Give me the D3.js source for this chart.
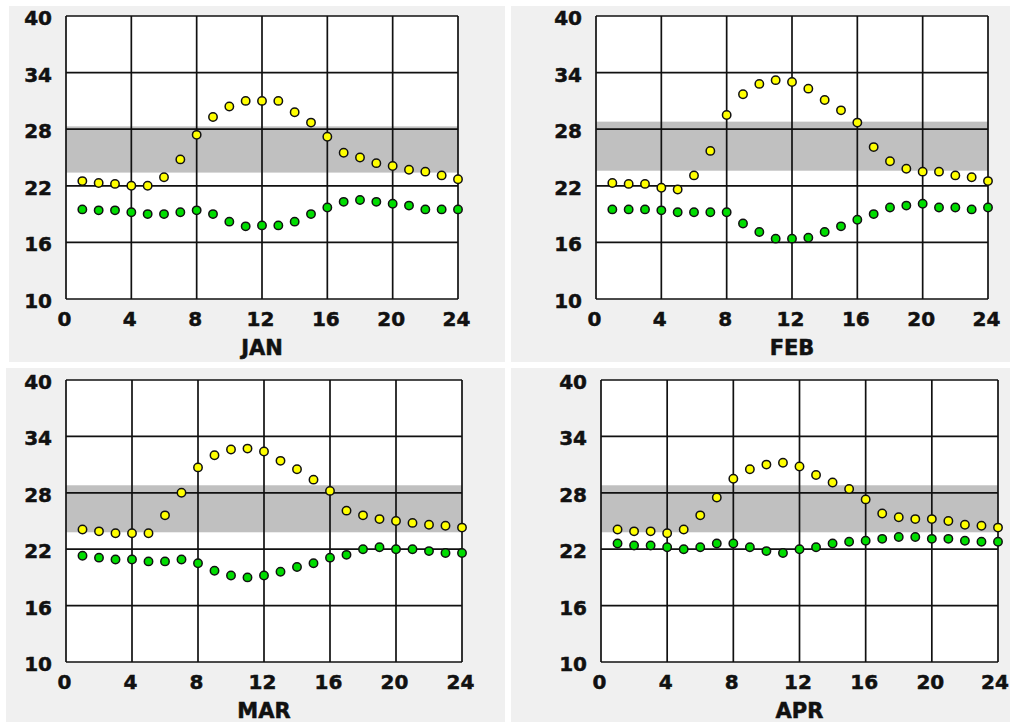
<html><head>
  <script src="https://d3js.org/d3.v7.min.js"></script>
  <style>
    body { margin: 0; background: #ffffff; }
    text { font-family: 'DejaVu Sans', Verdana, sans-serif; font-weight: bold; fill: #111;
           stroke: #111; stroke-width: 0.5px; }
  </style>
</head>
<body>
  <script>
    // Data
    const months = ["JAN", "FEB", "MAR", "APR"]
    const hours = d3.range(1, 25)
    const xTicks = [0, 4, 8, 12, 16, 20, 24]
    const yTicks = [10, 16, 22, 28, 34, 40]

    const janYellow = [22.5, 22.3, 22.2, 22.0, 22.0, 22.9, 24.8, 27.4, 29.3, 30.4, 31.0, 31.0,
                       31.0, 29.8, 28.7, 27.2, 25.5, 25.0, 24.4, 24.1, 23.7, 23.5, 23.1, 22.7]
    const janGreen  = [19.5, 19.4, 19.4, 19.2, 19.0, 19.0, 19.2, 19.4, 19.0, 18.2, 17.7, 17.8,
                       17.8, 18.2, 19.0, 19.7, 20.3, 20.5, 20.3, 20.1, 19.9, 19.5, 19.5, 19.5]
    const febYellow = [22.3, 22.2, 22.2, 21.8, 21.6, 23.1, 25.7, 29.5, 31.7, 32.8, 33.2, 33.0,
                       32.3, 31.1, 30.0, 28.7, 26.1, 24.6, 23.8, 23.5, 23.5, 23.1, 22.9, 22.5]
    const febGreen  = [19.5, 19.5, 19.5, 19.4, 19.2, 19.2, 19.2, 19.2, 18.0, 17.1, 16.4, 16.4,
                       16.5, 17.1, 17.7, 18.4, 19.0, 19.7, 19.9, 20.1, 19.7, 19.7, 19.5, 19.7]
    const marYellow = [24.1, 23.9, 23.7, 23.7, 23.7, 25.6, 28.0, 30.7, 32.0, 32.6, 32.7, 32.4,
                       31.4, 30.5, 29.4, 28.2, 26.1, 25.6, 25.2, 25.0, 24.8, 24.6, 24.5, 24.3]
    const marGreen  = [21.3, 21.1, 20.9, 20.9, 20.7, 20.7, 20.9, 20.5, 19.7, 19.2, 19.0, 19.2,
                       19.6, 20.1, 20.5, 21.1, 21.4, 22.0, 22.2, 22.0, 22.0, 21.8, 21.6, 21.6]
    const aprYellow = [24.1, 23.9, 23.9, 23.7, 24.1, 25.6, 27.5, 29.5, 30.5, 31.0, 31.2, 30.8,
                       29.9, 29.1, 28.4, 27.3, 25.8, 25.4, 25.2, 25.2, 25.0, 24.6, 24.5, 24.3]
    const aprGreen  = [22.6, 22.4, 22.4, 22.2, 22.0, 22.2, 22.6, 22.6, 22.2, 21.8, 21.6, 22.0,
                       22.2, 22.6, 22.8, 22.9, 23.1, 23.3, 23.3, 23.1, 23.1, 22.9, 22.8, 22.8]
    const yellowSeries = [janYellow, febYellow, marYellow, aprYellow]
    const greenSeries  = [janGreen, febGreen, marGreen, aprGreen]
    const bandLow  = [23.4, 23.6, 23.8, 23.8]
    const bandHigh = [28.3, 28.8, 28.8, 28.8]

    // Layout of the four panels (background box + plot area)
    const panels = [
      {bg: [9, 6, 496, 356],   plot: [66, 16, 458, 299]},
      {bg: [511, 6, 499, 356], plot: [596, 16, 988, 299]},
      {bg: [6, 368, 499, 354], plot: [66, 380, 462, 662]},
      {bg: [511, 368, 499, 354], plot: [601, 380, 998, 662]}
    ]

    const svg = d3.select("body").append("svg")
                  .attr("width", 1010)
                  .attr("height", 722)

    panels.forEach((p, i) => {
      const [x0, y0, x1, y1] = p.plot
      const x = d3.scaleLinear().domain([0, 24]).range([x0, x1])
      const y = d3.scaleLinear().domain([10, 40]).range([y1, y0])

      svg.append("rect")
         .attr("x", p.bg[0]).attr("y", p.bg[1])
         .attr("width", p.bg[2]).attr("height", p.bg[3])
         .attr("fill", "#f0f0f0")

      const g = svg.append("g")

      g.append("rect")
       .attr("x", x0).attr("y", y0)
       .attr("width", x1 - x0).attr("height", y1 - y0)
       .attr("fill", "#ffffff")

      // gray comfort band
      g.append("rect")
       .attr("x", x0).attr("y", y(bandHigh[i]))
       .attr("width", x1 - x0).attr("height", y(bandLow[i]) - y(bandHigh[i]))
       .attr("fill", "#c0c0c0")

      // grid
      g.selectAll(".vgrid").data(xTicks)
       .join("line")
       .attr("x1", d => x(d)).attr("x2", d => x(d))
       .attr("y1", y0).attr("y2", y1)
       .attr("stroke", "#111").attr("stroke-width", 1.7)
      g.selectAll(".hgrid").data(yTicks)
       .join("line")
       .attr("x1", x0).attr("x2", x1)
       .attr("y1", d => y(d)).attr("y2", d => y(d))
       .attr("stroke", "#111").attr("stroke-width", 1.7)

      // tick labels
      g.selectAll(".ylab").data(yTicks)
       .join("text")
       .attr("x", x0 - 14)
       .attr("y", d => y(d) + 9)
       .attr("text-anchor", "end")
       .style("font-size", "20px")
       .text(d => d)
      g.selectAll(".xlab").data(xTicks)
       .join("text")
       .attr("x", d => Math.min(x(d) - 1.5, 995))
       .attr("y", y1 + 27)
       .attr("text-anchor", "middle")
       .style("font-size", "20px")
       .text(d => d)

      g.append("text")
       .attr("x", (x0 + x1) / 2)
       .attr("y", y1 + 56)
       .attr("text-anchor", "middle")
       .style("font-size", "21px")
       .text(months[i])

      // dots
      g.selectAll(".yel").data(hours)
       .join("circle")
       .attr("cx", (d, j) => x(d))
       .attr("cy", (d, j) => y(yellowSeries[i][j]))
       .attr("r", 4.2)
       .attr("fill", "#ffff00")
       .attr("stroke", "#111").attr("stroke-width", 1.5)
      g.selectAll(".grn").data(hours)
       .join("circle")
       .attr("cx", (d, j) => x(d))
       .attr("cy", (d, j) => y(greenSeries[i][j]))
       .attr("r", 4.2)
       .attr("fill", "#00dd00")
       .attr("stroke", "#111").attr("stroke-width", 1.5)
    })
  </script>
</body></html>
